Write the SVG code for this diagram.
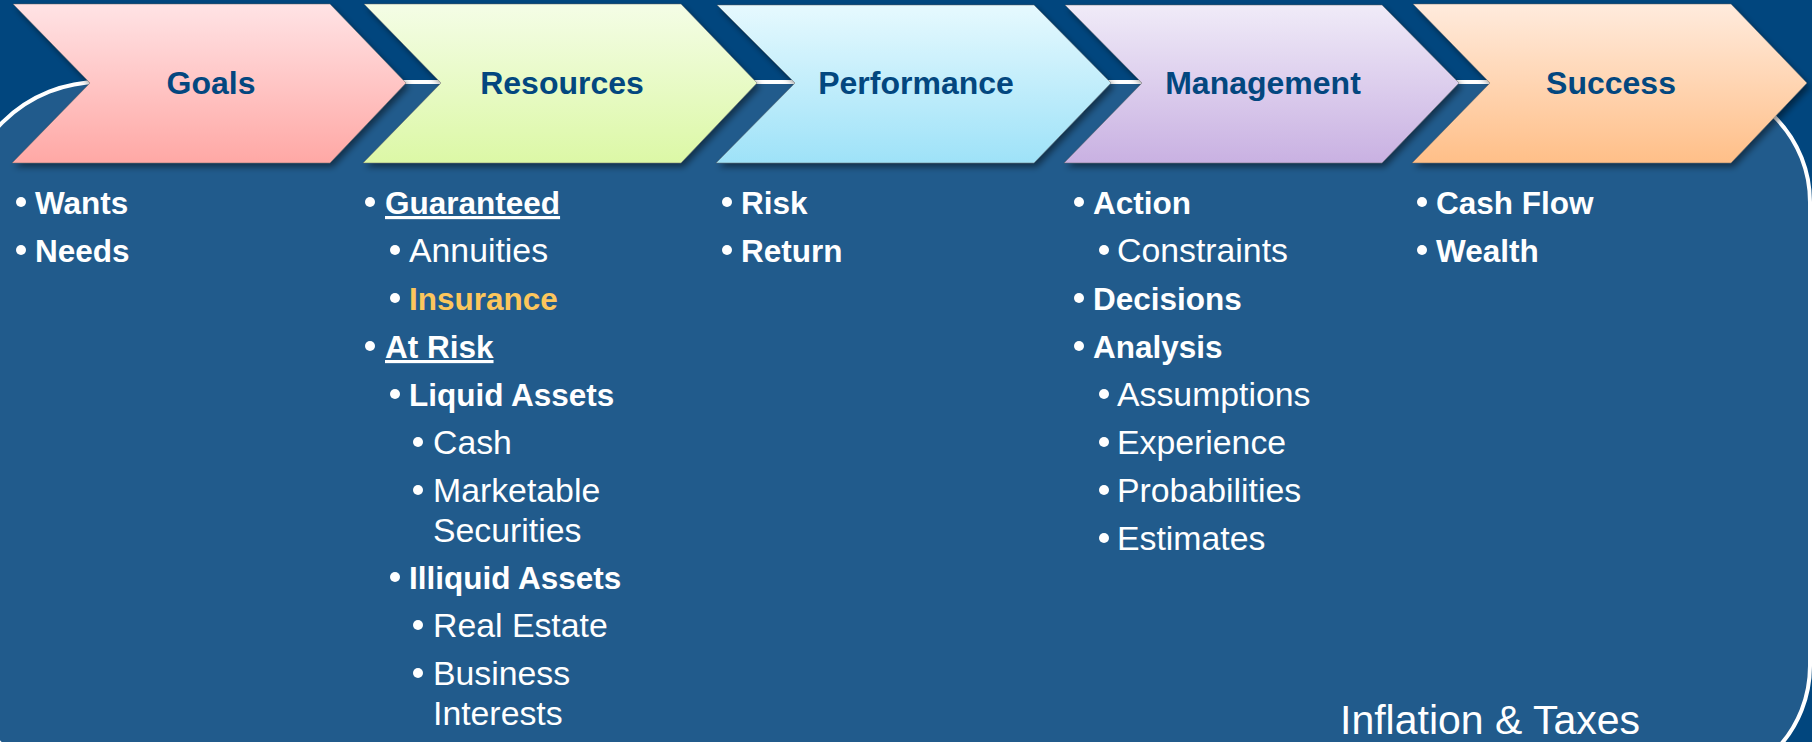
<svg xmlns="http://www.w3.org/2000/svg" width="1812" height="742" viewBox="0 0 1812 742">
<defs>
<style>
.hdr{font-family:"Liberation Sans",Arial,sans-serif;font-weight:bold;font-size:32px;fill:#03477f;text-anchor:middle}
.b{font-family:"Liberation Sans",Arial,sans-serif;font-weight:bold;font-size:31.5px;fill:#ffffff}
.r{font-family:"Liberation Sans",Arial,sans-serif;font-size:33.8px;fill:#ffffff}
.gold{fill:#fcc65c}
.dot{fill:#ffffff}
.chev{stroke:#5a5a5a;stroke-opacity:0.45;stroke-width:1;filter:url(#sh)}
.u{text-decoration:underline}
</style>
<filter id="sh" x="-10%" y="-20%" width="125%" height="150%">
<feDropShadow dx="3" dy="4" stdDeviation="3" flood-color="#000000" flood-opacity="0.45"/>
</filter>
<linearGradient id="gPink" x1="0" y1="0" x2="0" y2="1"><stop offset="0" stop-color="#ffe3e5"/><stop offset="1" stop-color="#ffa8a5"/></linearGradient>
<linearGradient id="gGreen" x1="0" y1="0" x2="0" y2="1"><stop offset="0" stop-color="#f4fde6"/><stop offset="1" stop-color="#dcf8a6"/></linearGradient>
<linearGradient id="gCyan" x1="0" y1="0" x2="0" y2="1"><stop offset="0" stop-color="#e6f9fe"/><stop offset="1" stop-color="#9ee2f8"/></linearGradient>
<linearGradient id="gLav" x1="0" y1="0" x2="0" y2="1"><stop offset="0" stop-color="#f0ebf8"/><stop offset="1" stop-color="#c9b1e2"/></linearGradient>
<linearGradient id="gPeach" x1="0" y1="0" x2="0" y2="1"><stop offset="0" stop-color="#ffebdd"/><stop offset="1" stop-color="#ffbf88"/></linearGradient>
</defs>

<rect x="0" y="0" width="1812" height="742" fill="#01467e"/>
<path id="panel" d="M100,82 H1690 A120,120 0 0 1 1810,202 V666 A120,120 0 0 1 1690,786 H100 A138,138 0 0 1 -38,648 V220 A138,138 0 0 1 100,82 Z" fill="#215b8c" stroke="#ffffff" stroke-width="4"/>

<g id="connectors"></g>

<g id="goals">
<path class="chev" fill="url(#gPink)" d="M13,4 H330 L406,83 L330,163 H12 L90,83 Z"/>
<text class="hdr" x="211" y="94">Goals</text>
</g>
<g id="resources">
<path class="chev" fill="url(#gGreen)" d="M364,4 H681 L757,83 L681,163 H363 L441,83 Z"/>
<text class="hdr" x="562" y="94">Resources</text>
</g>
<g id="performance">
<path class="chev" fill="url(#gCyan)" d="M717,5 H1034 L1111,83 L1034,163 H716 L795,83 Z"/>
<text class="hdr" x="916" y="94">Performance</text>
</g>
<g id="management">
<path class="chev" fill="url(#gLav)" d="M1065,5 H1382 L1459,83 L1382,163 H1064 L1142,83 Z"/>
<text class="hdr" x="1263" y="94">Management</text>
</g>
<g id="success">
<path class="chev" fill="url(#gPeach)" d="M1413,4 H1731 L1807,83 L1731,163 H1412 L1490,83 Z"/>
<text class="hdr" x="1611" y="94">Success</text>
</g>

<g id="goals-list">
<circle class="dot" cx="21" cy="202" r="5"/><text class="b" x="35" y="214">Wants</text>
<circle class="dot" cx="21" cy="250" r="5"/><text class="b" x="35" y="262">Needs</text>
</g>

<g id="resources-list">
<circle class="dot" cx="370" cy="202" r="5"/><text class="b u" x="385" y="214">Guaranteed</text>
<circle class="dot" cx="395" cy="250" r="5"/><text class="r" x="409" y="262">Annuities</text>
<circle class="dot gold" cx="395" cy="298" r="5"/><text class="b gold" x="409" y="310">Insurance</text>
<circle class="dot" cx="370" cy="346" r="5"/><text class="b u" x="385" y="358">At Risk</text>
<circle class="dot" cx="395" cy="394" r="5"/><text class="b" x="409" y="406">Liquid Assets</text>
<circle class="dot" cx="418" cy="442" r="5"/><text class="r" x="433" y="454">Cash</text>
<circle class="dot" cx="418" cy="490" r="5"/><text class="r" x="433" y="502">Marketable</text>
<text class="r" x="433" y="542">Securities</text>
<circle class="dot" cx="395" cy="577" r="5"/><text class="b" x="409" y="589">Illiquid Assets</text>
<circle class="dot" cx="418" cy="625" r="5"/><text class="r" x="433" y="637">Real Estate</text>
<circle class="dot" cx="418" cy="673" r="5"/><text class="r" x="433" y="685">Business</text>
<text class="r" x="433" y="725">Interests</text>
</g>

<g id="performance-list">
<circle class="dot" cx="727" cy="202" r="5"/><text class="b" x="741" y="214">Risk</text>
<circle class="dot" cx="727" cy="250" r="5"/><text class="b" x="741" y="262">Return</text>
</g>

<g id="management-list">
<circle class="dot" cx="1079" cy="202" r="5"/><text class="b" x="1093" y="214">Action</text>
<circle class="dot" cx="1104" cy="250" r="5"/><text class="r" x="1117" y="262">Constraints</text>
<circle class="dot" cx="1079" cy="298" r="5"/><text class="b" x="1093" y="310">Decisions</text>
<circle class="dot" cx="1079" cy="346" r="5"/><text class="b" x="1093" y="358">Analysis</text>
<circle class="dot" cx="1104" cy="394" r="5"/><text class="r" x="1117" y="406">Assumptions</text>
<circle class="dot" cx="1104" cy="442" r="5"/><text class="r" x="1117" y="454">Experience</text>
<circle class="dot" cx="1104" cy="490" r="5"/><text class="r" x="1117" y="502">Probabilities</text>
<circle class="dot" cx="1104" cy="538" r="5"/><text class="r" x="1117" y="550">Estimates</text>
</g>

<g id="success-list">
<circle class="dot" cx="1422" cy="202" r="5"/><text class="b" x="1436" y="214">Cash Flow</text>
<circle class="dot" cx="1422" cy="250" r="5"/><text class="b" x="1436" y="262">Wealth</text>
</g>

<g id="footer">
<text x="1340" y="734" font-family="'Liberation Sans',Arial,sans-serif" font-size="41" fill="#ffffff">Inflation &amp; Taxes</text>
</g>
</svg>
